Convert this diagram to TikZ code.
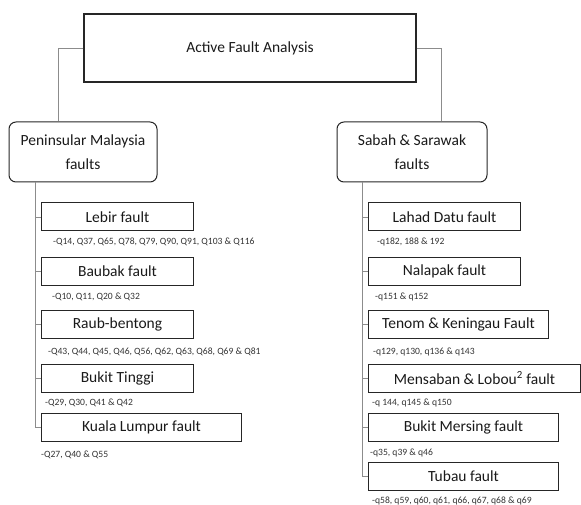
\documentclass[tikz,border=0pt]{standalone}
\usepackage{fontspec}
\setmainfont{Carlito}
\usepackage{xcolor}
\usetikzlibrary{positioning}

\begin{document}
\begin{tikzpicture}[x=1pt,y=-1pt,
  box/.style={draw=black!85,line width=1pt,inner sep=0pt,text=black!90,font=\fontsize{15.5}{24}\selectfont,align=center},
  fbox/.style={box,minimum height=28,anchor=west},
  grp/.style={box,rounded corners=7pt,minimum width=148,minimum height=60},
  conn/.style={draw=black!45,line width=0.8pt},
  qlist/.style={anchor=west,inner sep=0pt,text=black!80,font=\fontsize{9.6}{11}\selectfont}]
\useasboundingbox (0,0) rectangle (581,505);
\node[box,line width=1.2pt,minimum width=332,minimum height=68] (top) at (250,48) {Active Fault Analysis};
\node[grp] (pmf) at (83,152) {Peninsular Malaysia\\faults};
\node[grp,minimum width=150] (ssf) at (412,152) {Sabah \& Sarawak\\faults};
\draw[conn] (top.west) -| (pmf.north -| 58,0);
\draw[conn] (top.east) -| (ssf.north -| 441,0);
\node[fbox,minimum width=152] (lebir) at (41,217) {Lebir fault};
\node[fbox,minimum width=152] (baubak) at (41,271) {Baubak fault};
\node[fbox,minimum width=152] (raub) at (41,324.5) {Raub-bentong};
\node[fbox,minimum width=152] (tinggi) at (41,378.5) {Bukit Tinggi};
\node[fbox,minimum width=200] (kl) at (41,427.5) {Kuala Lumpur fault};
\node[qlist] (qlebir) at (53,242) {-Q14, Q37, Q65, Q78, Q79, Q90, Q91, Q103 \& Q116};
\node[qlist] (qbaubak) at (52,297) {-Q10, Q11, Q20 \& Q32};
\node[qlist] (qraub) at (48,352) {-Q43, Q44, Q45, Q46, Q56, Q62, Q63, Q68, Q69 \& Q81};
\node[qlist] (qtinggi) at (45,403) {-Q29, Q30, Q41 \& Q42};
\node[qlist] (qkl) at (41,455) {-Q27, Q40 \& Q55};
\coordinate (tl) at (pmf.south -| 35,0);
\draw[conn] (tl) |- (kl.west);
\foreach \n in {lebir,baubak,raub,tinggi}
  \draw[conn] (\n.west) -- (\n.west -| tl);
\node[fbox,minimum width=152] (lahad) at (368,217) {Lahad Datu fault};
\node[fbox,minimum width=152] (nalapak) at (368,271) {Nalapak fault};
\node[fbox,minimum width=180] (tenom) at (368,324.5) {Tenom \& Keningau Fault};
\node[fbox,minimum width=212] (mensaban) at (368,378) {Mensaban \& Lobou\textsuperscript{2} fault};
\node[fbox,minimum width=190] (mersing) at (368,427) {Bukit Mersing fault};
\node[fbox,minimum width=190] (tubau) at (368,476) {Tubau fault};
\node[qlist] (qlahad) at (377,242) {-q182, 188 \& 192};
\node[qlist] (qnalapak) at (375,297) {-q151 \& q152};
\node[qlist] (qtenom) at (373,352) {-q129, q130, q136 \& q143};
\node[qlist] (qmensaban) at (372,403) {-q 144, q145 \& q150};
\node[qlist] (qmersing) at (370,453) {-q35, q39 \& q46};
\node[qlist] (qtubau) at (372,501) {-q58, q59, q60, q61, q66, q67, q68 \& q69};
\coordinate (tr) at (ssf.south -| 362,0);
\draw[conn] (tr) |- (tubau.west);
\foreach \n in {lahad,nalapak,tenom,mensaban,mersing}
  \draw[conn] (\n.west) -- (\n.west -| tr);
\end{tikzpicture}
\end{document}
